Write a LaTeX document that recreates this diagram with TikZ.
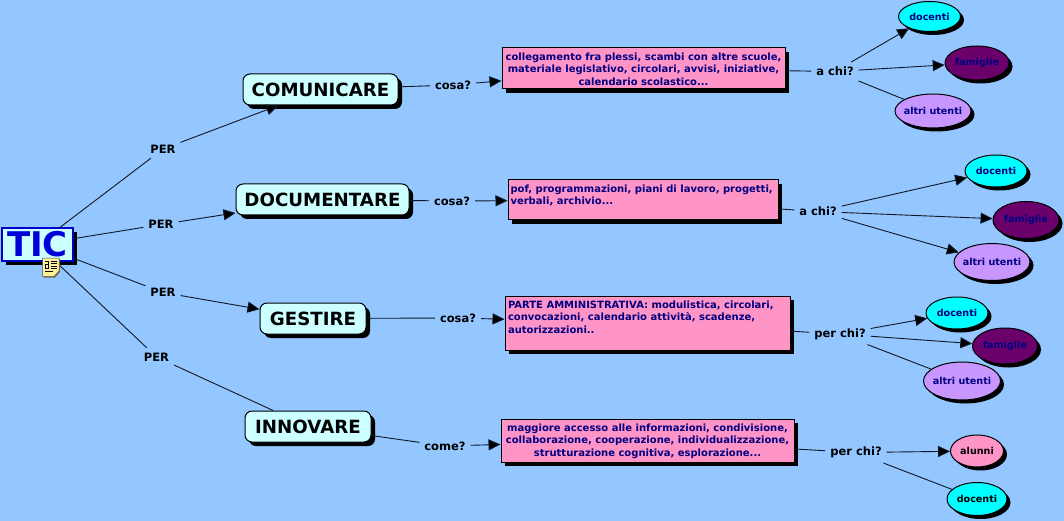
\documentclass[tikz,border=0pt]{standalone}
\usepackage{fontspec}
\setmainfont{DejaVu Sans}
\usetikzlibrary{arrows.meta,shapes.geometric,shadows}
\definecolor{bgblue}{HTML}{94C6FF}
\definecolor{paleblue}{HTML}{CCFFFF}
\definecolor{boxpink}{HTML}{FF94C6}
\definecolor{navytext}{HTML}{000080}
\definecolor{lineblack}{HTML}{101828}
\definecolor{cyanfill}{HTML}{00FFFF}
\definecolor{purplefill}{HTML}{6B006B}
\definecolor{lilacfill}{HTML}{C896FF}
\definecolor{notebg}{HTML}{FFF09A}
% #1 height, #2 width, #3 alignment command, #4 text: set from the top of the box
\newcommand{\infotext}[4]{\parbox[c][#1][t]{#2}{\vspace{4pt}#3 #4}}
\tikzset{
  x=1pt,y=-1pt,
  solidshadow/.style={general shadow={shadow xshift=#1,shadow yshift=-#1,fill=black}},
  rootbox/.style={draw=blue!80!black,line width=1.2pt,fill=paleblue,rectangle,inner sep=0pt,solidshadow=4pt,
    font=\fontsize{34}{34}\selectfont\bfseries,text=blue!85!black},
  verbbox/.style={draw=black,line width=1pt,fill=paleblue,rectangle,rounded corners=7pt,inner sep=0pt,solidshadow=4pt,
    font=\fontsize{18.2}{20}\selectfont\bfseries,text=black},
  infobox/.style={draw=black,line width=1pt,fill=boxpink,rectangle,inner sep=0pt,solidshadow=4pt,
    font=\fontsize{10}{12.6}\selectfont\bfseries,text=navytext},
  who/.style={draw=black,line width=1pt,ellipse,inner sep=-9pt,solidshadow=3.5pt,
    font=\fontsize{9.6}{12}\selectfont\bfseries,text=navytext},
  tag/.style={inner sep=1pt,outer sep=4pt,font=\fontsize{11.5}{13}\selectfont\bfseries,text=black},
  link/.style={draw=lineblack,line width=0.9pt},
  linkto/.style={link,-{Triangle[length=12pt,width=11pt,fill=black]}},
}
\begin{document}
\begin{tikzpicture}
\path[fill=bgblue] (0,0) rectangle (1064,521);
\useasboundingbox (0,0) rectangle (1064,521);

% verb boxes
\node[rootbox,minimum width=71pt,minimum height=33pt] (tic) at (37.5,244.5) {TIC};
\node[verbbox,minimum width=155pt,minimum height=31pt] (comunicare) at (320.5,89.5) {COMUNICARE};
\node[verbbox,minimum width=173pt,minimum height=31pt] (documentare) at (322.5,199.5) {DOCUMENTARE};
\node[verbbox,minimum width=106pt,minimum height=31pt] (gestire) at (313,318.5) {GESTIRE};
\node[verbbox,minimum width=126pt,minimum height=31pt] (innovare) at (308,426.5) {INNOVARE};

% information boxes
\node[infobox,minimum width=283pt,minimum height=41pt] (info1) at (643.5,68.5)
  {\infotext{40pt}{280pt}{\centering}{collegamento fra plessi, scambi con altre scuole,\\materiale legislativo, circolari, avvisi, iniziative,\\calendario scolastico...}};
\node[infobox,minimum width=270pt,minimum height=40pt] (info2) at (643,200)
  {\infotext{39pt}{265pt}{\raggedright}{pof, programmazioni, piani di lavoro, progetti,\\verbali, archivio...}};
\node[infobox,minimum width=285pt,minimum height=54pt] (info3) at (647.5,323)
  {\infotext{53pt}{279pt}{\raggedright}{PARTE AMMINISTRATIVA: modulistica, circolari,\\convocazioni, calendario attività, scadenze,\\autorizzazioni..}};
\node[infobox,minimum width=293pt,minimum height=43pt] (info4) at (647.5,440.5)
  {\infotext{42pt}{290pt}{\centering}{maggiore accesso alle informazioni, condivisione,\\ collaborazione, cooperazione, individualizzazione,\\strutturazione cognitiva, esplorazione...}};

% people
\node[who,fill=cyanfill,minimum width=62pt,minimum height=30pt] (doc1) at (929.5,16.5) {docenti};
\node[who,fill=purplefill,minimum width=64pt,minimum height=34pt] (fam1) at (977,63) {famiglie};
\node[who,fill=lilacfill,minimum width=76pt,minimum height=34pt] (alt1) at (933,111) {altri utenti};
\node[who,fill=cyanfill,minimum width=62pt,minimum height=32pt] (doc2) at (996,171) {docenti};
\node[who,fill=purplefill,minimum width=66pt,minimum height=37pt] (fam2) at (1026,220) {famiglie};
\node[who,fill=lilacfill,minimum width=76pt,minimum height=37pt] (alt2) at (992,262) {altri utenti};
\node[who,fill=cyanfill,minimum width=62pt,minimum height=32pt] (doc3) at (957,313) {docenti};
\node[who,fill=purplefill,minimum width=65pt,minimum height=36pt] (fam3) at (1005,346) {famiglie};
\node[who,fill=lilacfill,minimum width=77pt,minimum height=38pt] (alt3) at (962,381) {altri utenti};
\node[who,fill=boxpink,minimum width=53pt,minimum height=32pt,text=black] (alu4) at (977,451) {alunni};
\node[who,fill=cyanfill,minimum width=60pt,minimum height=33pt,text=black] (doc4) at (977,499) {docenti};

% labels
\node[tag] (per1) at (163,149) {PER};
\node[tag] (per2) at (161,224.5) {PER};
\node[tag] (per3) at (163,292.5) {PER};
\node[tag] (per4) at (156.5,357) {PER};
\node[tag] (cosa1) at (453,85) {cosa?};
\node[tag] (cosa2) at (452,201) {cosa?};
\node[tag] (cosa3) at (458,318) {cosa?};
\node[tag] (come4) at (445,446) {come?};
\node[tag] (chi1) at (835,71.5) {a chi?};
\node[tag] (chi2) at (818,211.5) {a chi?};
\node[tag] (chi3) at (840,334) {per chi?};
\node[tag] (chi4) at (856,452.5) {per chi?};

% connectors
\draw[link] (tic) -- (per1);
\draw[link] (tic) -- (per2);
\draw[link] (tic) -- (per3);
\draw[link] (tic) -- (per4);
\draw[linkto] (per1) -- (comunicare);
\draw[linkto] (per2) -- (documentare);
\draw[linkto] (per3) -- (gestire);
\draw[link] (per4) -- (innovare);

\draw[link] (comunicare) -- (cosa1);
\draw[link] (documentare) -- (cosa2);
\draw[link] (gestire) -- (cosa3);
\draw[link] (innovare) -- (come4);
\draw[linkto] (cosa1) -- (info1);
\draw[linkto] (cosa2) -- (info2);
\draw[linkto] (cosa3) -- (info3);
\draw[linkto] (come4) -- (info4);

\draw[link] (info1) -- (chi1);
\draw[link] (info2) -- (chi2);
\draw[link] (info3) -- (chi3);
\draw[link] (info4) -- (chi4);

\draw[linkto] (chi1) -- (doc1);
\draw[linkto] (chi1) -- (fam1);
\draw[link] (chi1) -- (alt1);
\draw[linkto] (chi2) -- (doc2);
\draw[linkto] (chi2) -- (fam2);
\draw[linkto] (chi2) -- (alt2);
\draw[linkto] (chi3) -- (doc3);
\draw[linkto] (chi3) -- (fam3);
\draw[link] (chi3) -- (alt3);
\draw[linkto] (chi4) -- (alu4);
\draw[link] (chi4) -- (doc4);

% note icon
\fill[black!55!notebg] (43.5,259) -- (60,259) -- (60,272) -- (55,277.5) -- (43.5,277.5) -- cycle;
\fill[notebg] (42.5,258) -- (59,258) -- (59,271) -- (54,276.5) -- (42.5,276.5) -- cycle;
\draw[black!70,line width=0.5pt] (42.5,258) -- (59,258) -- (59,271) -- (54,276.5) -- (42.5,276.5) -- cycle;
% the icon's small letter-shaped glyph
\draw[black,line width=0.8pt] (45,261) -- (48.8,261) -- (48.8,268.5) -- (45,268.5) -- (45,264.7) -- (48.8,264.7);
\foreach \yy in {261,263.5,266,268.5}{\draw[black,line width=0.8pt] (50.5,\yy) -- (57,\yy);}
\draw[black,line width=0.8pt] (45,271) -- (53,271);
\end{tikzpicture}
\end{document}
